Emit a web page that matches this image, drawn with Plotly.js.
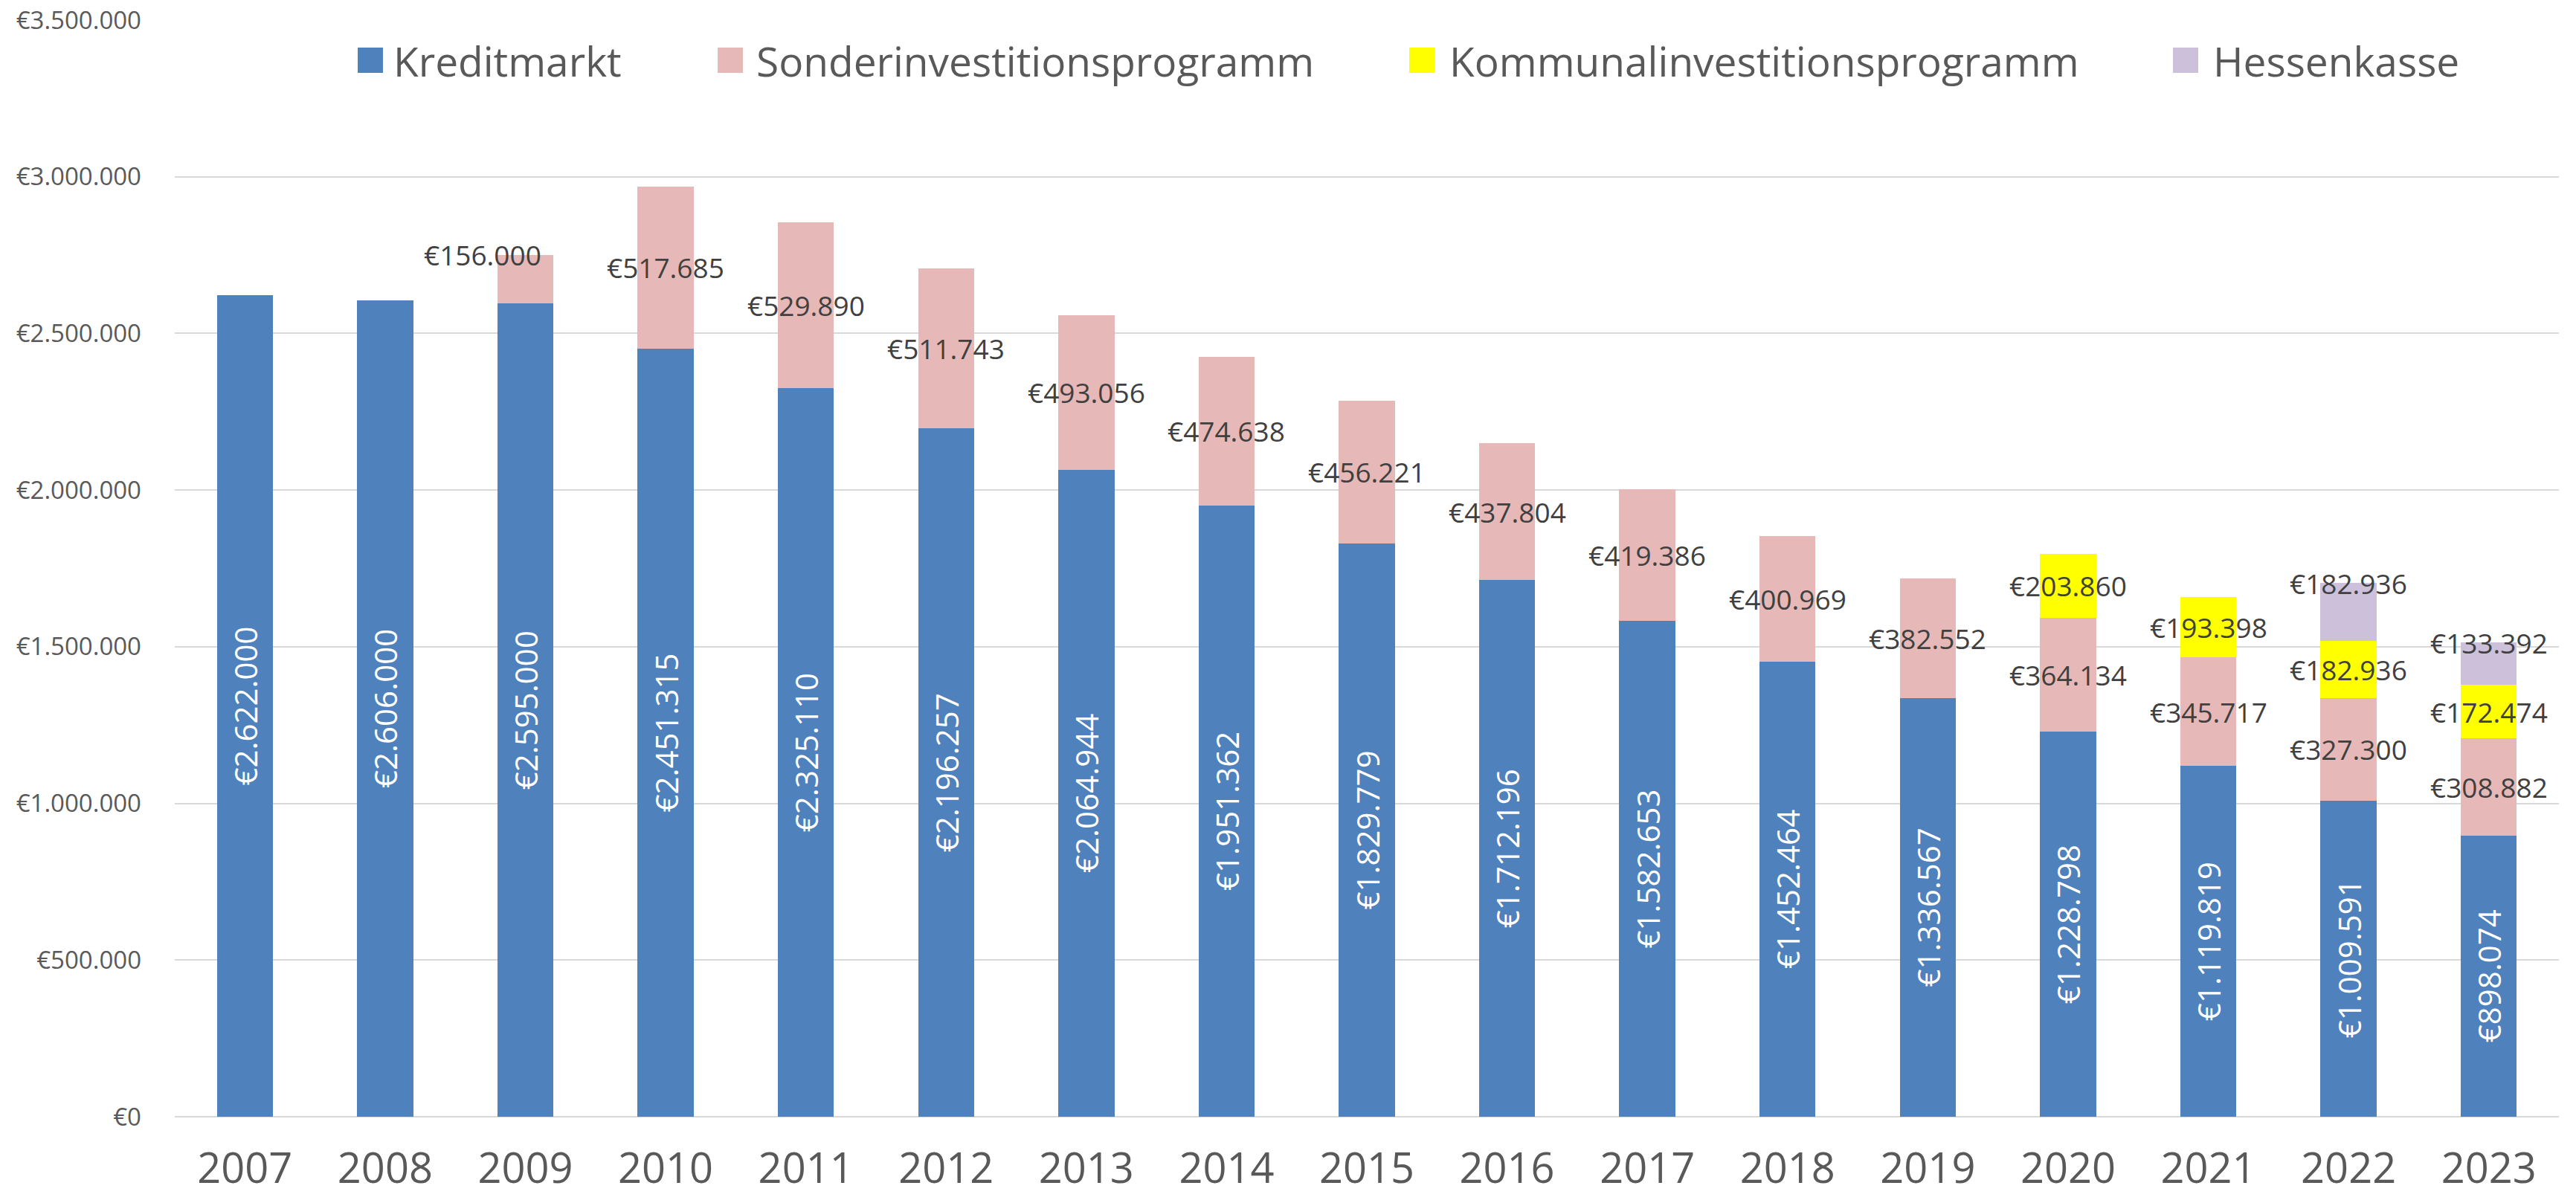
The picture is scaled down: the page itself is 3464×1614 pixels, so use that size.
<!DOCTYPE html>
<html>
<head>
<meta charset="utf-8">
<script src="https://cdn.plot.ly/plotly-3.0.1.min.js"></script>
<style>html,body{margin:0;padding:0;background:#fff;}#chart{width:3464px;height:1614px;}</style>
</head>
<body>
<div id="chart"></div>
<script>
// ---- data ----
var years = ['2007','2008','2009','2010','2011','2012','2013','2014','2015','2016','2017','2018','2019','2020','2021','2022','2023'];
var kreditmarkt = [2622000,2606000,2595000,2451315,2325110,2196257,2064944,1951362,1829779,1712196,1582653,1452464,1336567,1228798,1119819,1009591,898074];
var sonderinvest = [null,null,156000,517685,529890,511743,493056,474638,456221,437804,419386,400969,382552,364134,345717,327300,308882];
var kommunalinvest = [null,null,null,null,null,null,null,null,null,null,null,null,null,203860,193398,182936,172474];
var hessenkasse = [null,null,null,null,null,null,null,null,null,null,null,null,null,null,null,182936,133392];
var seriesNames = ['Kreditmarkt','Sonderinvestitionsprogramm','Kommunalinvestitionsprogramm','Hessenkasse'];
var yTicks = [0,500000,1000000,1500000,2000000,2500000,3000000,3500000];

(function(){
// ---- styling ----
var colors = ['#4F81BD','#E6B8B7','#FFFF00','#CCC0DA'];
var FONT = 'Open Sans, sans-serif';
var GRAY = '#595959';
var DARK = '#404040';

function fmt(n){ return '€' + Math.round(n).toString().replace(/\B(?=(\d{3})+(?!\d))/g, '.'); }

var series = [kreditmarkt, sonderinvest, kommunalinvest, hessenkasse];
var traces = series.map(function(vals, i){
  var t = {
    type:'bar', name: seriesNames[i], x: years, y: vals,
    marker:{color: colors[i], line:{width:0}},
    showlegend:false, hoverinfo:'x+y+name'
  };
  if (i === 0) {
    t.texttemplate = '€%{y:,d}';
    t.textposition = 'inside';
    t.insidetextanchor = 'middle';
    t.textangle = -90;
    t.constraintext = 'none';
    t.insidetextfont = {family: FONT, size: 42, color:'#ffffff'};
  } else {
    t.textposition = 'none';
  }
  return t;
});

// dark data labels for the stacked segments, positioned from the data
var annotations = [];
for (var j = 0; j < years.length; j++) {
  var base = kreditmarkt[j];
  for (var s = 1; s < series.length; s++) {
    var v = series[s][j];
    if (v == null) continue;
    var segTop = base + v;
    var atTop = (s === 3) || (s === 1 && years[j] === '2009');
    annotations.push({
      x: j, y: atTop ? segTop : base + v/2, xref:'x', yref:'y',
      text: fmt(v), showarrow:false, xanchor:'center', yanchor:'middle',
      xshift: (s === 1 && years[j] === '2009') ? -57 : 0,
      font:{family: FONT, size: 37, color: DARK}
    });
    base = segTop;
  }
}

// legend (drawn as squares + text in paper coordinates)
var PW = 3206, PH = 1475, ML = 235, MT = 27;
function pxX(x){ return (x - ML)/PW; }
function pxY(y){ return (MT + PH - y)/PH; }
var legendSq = [481, 965, 1895, 2922];
var legendTx = [527, 1015, 1947, 2974];
var shapes = [];
for (var k = 0; k < 4; k++) {
  shapes.push({type:'rect', xref:'paper', yref:'paper',
    x0: pxX(legendSq[k]), x1: pxX(legendSq[k]+34), y0: pxY(98), y1: pxY(64),
    fillcolor: colors[k], line:{width:0}});
  annotations.push({xref:'paper', yref:'paper', x: pxX(legendTx[k]), y: pxY(82),
    text: seriesNames[k], showarrow:false, xanchor:'left', yanchor:'middle',
    font:{family: FONT, size: 55, color: GRAY}});
}

var layout = {
  width: 3464, height: 1614,
  margin:{l: ML, r: 23, t: MT, b: 112, pad: 0},
  paper_bgcolor:'#ffffff', plot_bgcolor:'#ffffff',
  barmode:'stack', bargap: 0.6,
  separators: ',.',
  showlegend:false,
  font:{family: FONT, color: GRAY},
  xaxis:{type:'category', range:[-0.5, years.length - 0.5], autorange:false,
    tickfont:{family: FONT, size: 56, color: GRAY},
    showgrid:false, showline:false, ticks:'', ticklabelstandoff: 32, automargin:false},
  yaxis:{range:[0, 3500000], autorange:false, tickvals: yTicks, ticktext: yTicks.map(fmt),
    showgrid:true, gridcolor:'#D9D9D9', gridwidth:2,
    zeroline:true, zerolinecolor:'#D9D9D9', zerolinewidth:2,
    showline:false, ticks:'', ticklabelstandoff: 44,
    tickfont:{family: FONT, size: 33, color: GRAY}, automargin:false},
  annotations: annotations,
  shapes: shapes
};

Plotly.newPlot('chart', traces, layout, {staticPlot:true, displayModeBar:false});
})();
</script>
</body>
</html>
